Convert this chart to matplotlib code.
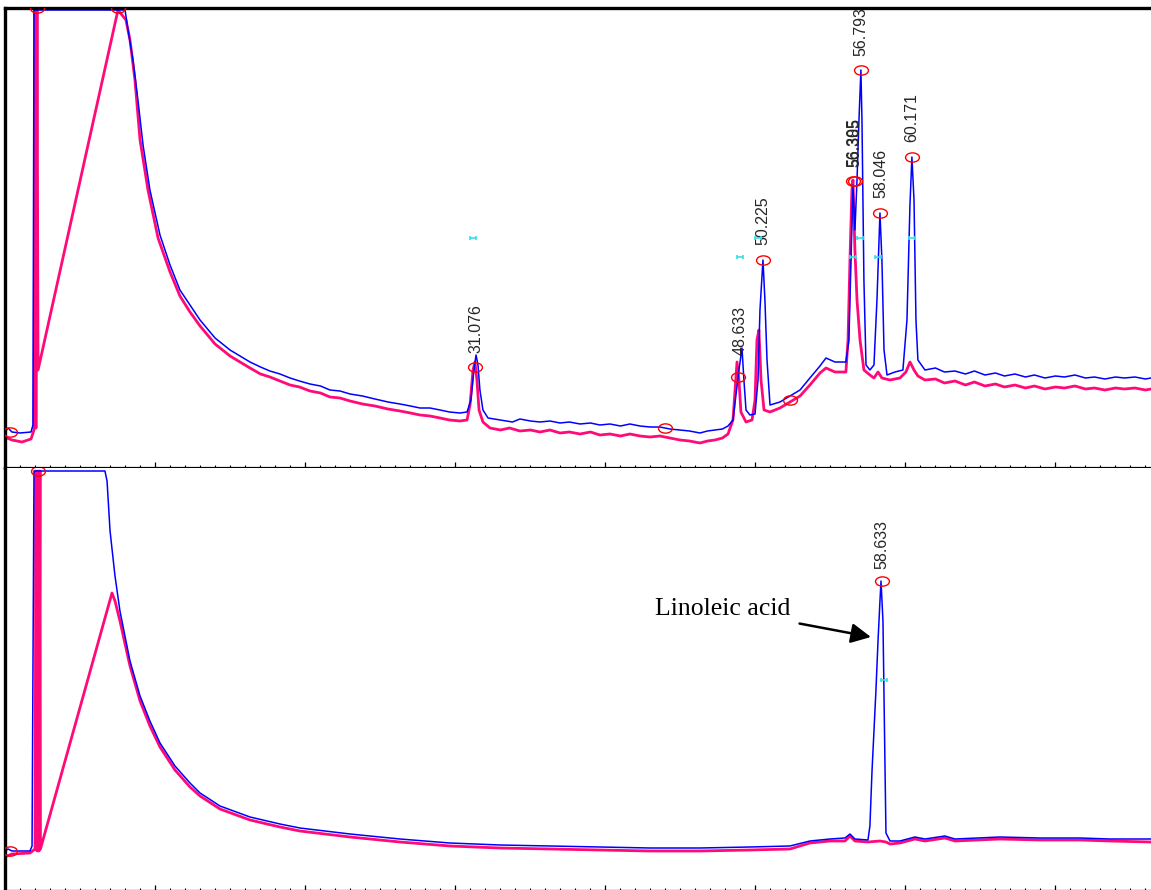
import numpy as np
import matplotlib
matplotlib.use("Agg")
import matplotlib.pyplot as plt
from matplotlib.path import Path
from matplotlib.transforms import Affine2D

blue_top = [(-0.33, 36), (-0.13, 40), (0.13, 36), (0.67, 35), (1.4, 36), (1.53, 43), (1.6, 458),
            (7.67, 458), (7.87, 438), (8.2, 408), (8.53, 368), (8.87, 323), (9.33, 278), (10.0, 233),
            (10.67, 203), (11.33, 178), (12.0, 163), (12.67, 148), (13.67, 130), (14.67, 118),
            (16.0, 106), (16.7, 101), (17.33, 97), (18.0, 94), (18.67, 90), (19.3, 87), (20.0, 84),
            (20.7, 82), (21.33, 78), (22.0, 77), (22.67, 74), (23.5, 72), (24.33, 69), (25.2, 66),
            (26.0, 64), (26.7, 62), (27.33, 60), (28.0, 60), (28.67, 58), (29.3, 56), (30.0, 55),
            (30.47, 56), (30.73, 68), (30.93, 98), (31.07, 113), (31.2, 103), (31.33, 78), (31.53, 58),
            (31.87, 50), (32.67, 48), (33.5, 46), (34.0, 49), (34.7, 47), (35.33, 46), (36.0, 47),
            (36.67, 45), (37.3, 46), (38.0, 44), (38.7, 45), (39.33, 43), (40.0, 44), (40.7, 42),
            (41.33, 44), (42.0, 42), (42.67, 41), (43.33, 41), (44.0, 39), (44.67, 38), (45.3, 37),
            (46.0, 35), (46.5, 37), (47.0, 38), (47.5, 39), (47.87, 42), (48.2, 48), (48.4, 73),
            (48.6, 98), (48.8, 120), (48.93, 88), (49.07, 58), (49.33, 53), (49.67, 54), (49.87, 88),
            (50.0, 158), (50.2, 208), (50.33, 168), (50.47, 108), (50.67, 63), (51.33, 66), (52.0, 72),
            (52.67, 78), (53.33, 90), (54.0, 102), (54.4, 110), (55.0, 106), (55.73, 106), (55.93, 128),
            (56.07, 208), (56.2, 283), (56.33, 238), (56.47, 288), (56.6, 348), (56.73, 398), (56.8, 348),
            (56.93, 188), (57.07, 103), (57.33, 98), (57.6, 103), (57.8, 168), (58.0, 255), (58.13, 208),
            (58.27, 118), (58.47, 93), (59.0, 96), (59.53, 98), (59.8, 148), (60.0, 263), (60.13, 311),
            (60.27, 268), (60.4, 148), (60.53, 108), (61.0, 98), (61.7, 100), (62.3, 96), (63.0, 97),
            (63.7, 94), (64.3, 97), (65.0, 93), (65.7, 95), (66.3, 92), (67.0, 94), (67.7, 91),
            (68.3, 93), (69.0, 90), (69.7, 92), (70.3, 91), (71.0, 93), (71.7, 90), (72.3, 91),
            (73.0, 89), (73.7, 91), (74.3, 90), (75.0, 91), (75.7, 89), (76.07, 90)]

pink_top = [(-0.2, 30), (0.13, 28), (0.8, 26), (1.4, 29), (1.6, 38), (1.67, 458), (1.73, 40),
            (1.8, 458), (1.87, 98),
            (7.2, 458), (7.73, 448), (8.0, 428), (8.33, 388), (8.67, 328), (9.2, 278), (9.87, 230),
            (10.67, 196), (11.33, 172), (12.0, 156), (12.67, 142), (13.67, 124), (14.67, 112),
            (16.0, 100), (16.7, 94), (17.33, 91), (18.0, 87), (18.67, 83), (19.3, 81), (20.0, 77),
            (20.7, 75), (21.33, 71), (22.0, 70), (22.67, 67), (23.5, 64), (24.33, 62), (25.2, 59),
            (26.0, 57), (26.7, 55), (27.33, 53), (28.0, 52), (28.67, 50), (29.3, 48), (30.0, 47),
            (30.47, 48), (30.67, 63), (30.87, 98), (31.0, 106), (31.13, 88), (31.27, 58), (31.53, 46),
            (32.0, 40), (32.7, 38), (33.3, 40), (34.0, 37), (34.7, 38), (35.33, 36), (36.0, 38),
            (36.67, 35), (37.3, 36), (38.0, 34), (38.7, 36), (39.33, 33), (40.0, 34), (40.7, 32),
            (41.33, 34), (42.0, 32), (42.67, 31), (43.33, 32), (44.0, 30), (44.67, 28), (45.3, 27),
            (46.0, 25), (46.5, 27), (47.0, 28), (47.5, 30), (47.87, 34), (48.2, 48), (48.4, 90),
            (48.47, 106), (48.6, 88), (48.73, 56), (49.07, 46), (49.47, 48), (49.67, 68), (49.8, 128),
            (49.93, 138), (50.07, 88), (50.27, 58), (50.67, 56), (51.33, 60), (52.0, 66), (52.67, 72),
            (53.33, 83), (54.0, 95), (54.4, 100), (55.0, 96), (55.73, 96), (55.87, 128), (56.0, 208),
            (56.13, 278), (56.2, 288), (56.33, 218), (56.47, 168), (56.67, 128), (56.93, 98),
            (57.33, 93), (57.6, 90), (57.87, 96), (58.13, 90), (58.67, 88), (59.33, 90), (59.73, 96),
            (60.0, 106), (60.27, 98), (60.53, 92), (61.0, 88), (61.7, 89), (62.3, 85), (63.0, 87),
            (63.7, 83), (64.3, 86), (65.0, 82), (65.7, 84), (66.3, 81), (67.0, 83), (67.7, 80),
            (68.3, 82), (69.0, 79), (69.7, 81), (70.3, 80), (71.0, 82), (71.7, 79), (72.3, 80),
            (73.0, 78), (73.7, 80), (74.3, 79), (75.0, 80), (75.7, 78), (76.07, 79)]

blue_bot = [(-0.33, 40), (-0.13, 42), (0.13, 40), (1.33, 40), (1.47, 45), (1.6, 420), (6.33, 420),
            (6.47, 410), (6.67, 360), (7.0, 315), (7.33, 280), (8.0, 230), (8.67, 195), (9.33, 170),
            (10.0, 148), (11.0, 125), (12.0, 108), (12.67, 98), (14.0, 85), (16.0, 74), (18.0, 67),
            (19.33, 63), (22.67, 57), (26.0, 52), (29.33, 48), (32.67, 46), (36.0, 45), (39.33, 44),
            (42.67, 43), (46.0, 43), (49.33, 44), (52.0, 45), (53.33, 50), (54.67, 52), (55.67, 53),
            (56.0, 57), (56.33, 52), (57.2, 51), (57.33, 65), (57.47, 120), (57.6, 160), (57.73, 200),
            (57.87, 250), (58.0, 290), (58.07, 310), (58.2, 270), (58.33, 130), (58.4, 58), (58.67, 50),
            (59.33, 50), (60.33, 54), (61.0, 52), (62.33, 55), (63.0, 52), (66.0, 54), (68.67, 53),
            (71.33, 53), (73.33, 52), (76.07, 52)]

pink_bot = [(-0.2, 35), (0.13, 37), (1.33, 38), (1.67, 42), (1.73, 420), (1.8, 40), (1.87, 420),
            (1.93, 40), (2.0, 420), (2.03, 42),
            (6.8, 298), (7.0, 290), (7.33, 270), (8.0, 225), (8.67, 190), (9.33, 165), (10.0, 144),
            (11.0, 121), (12.0, 104), (12.67, 95), (14.0, 82), (16.0, 71), (18.0, 64), (19.33, 60),
            (22.67, 54), (26.0, 49), (29.33, 45), (32.67, 43), (36.0, 42), (39.33, 41), (42.67, 40),
            (46.0, 40), (49.33, 41), (52.0, 42), (53.33, 48), (54.67, 50), (55.67, 50), (56.0, 55),
            (56.33, 50), (57.2, 49), (58.0, 50), (58.4, 49), (58.67, 47), (59.33, 48), (60.33, 52),
            (61.0, 50), (62.33, 53), (63.0, 50), (66.0, 52), (68.67, 51), (71.33, 51), (73.33, 50),
            (76.07, 49)]

# marqueurs des pics (cercles rouges) et bornes d'integration (cyan)
peaks_top = [(0.0, 36), (1.8, 460), (7.2, 460), (31.0, 101), (43.67, 40), (48.53, 91), (50.2, 208),
             (52.0, 68), (56.2, 287), (56.33, 287), (56.73, 398), (58.0, 255), (60.13, 311)]
peaks_bot = [(0.0, 40), (1.87, 420), (58.13, 310)]
bounds_top = [(30.87, 230), (48.67, 211), (49.87, 230), (56.2, 211), (56.67, 230), (57.87, 211), (60.13, 230)]
bounds_bot = [(58.27, 211)]

# etiquettes des temps de retention
labels_top = ["31.076", "48.633", "50.225", "56.305", "56.385", "56.793", "58.046", "60.171"]
labels_top_pos = [(31.07, 115), (48.67, 113), (50.2, 223), (56.25, 301), (56.3, 301), (56.73, 412),
                  (58.07, 270), (60.13, 326)]
labels_bot = ["58.633"]
labels_bot_pos = [(58.13, 322)]

BLUE = "#0000ff"
PINK = "#ff0a78"
LABEL_FONT = ["Liberation Sans", "DejaVu Sans"]

ellipse = Path.unit_circle().transformed(Affine2D().scale(1.5, 1.0))
bar_i = Path([(-1, 0), (1, 0), (-1, -0.7), (-1, 0.7), (1, -0.7), (1, 0.7)],
             [Path.MOVETO, Path.LINETO, Path.MOVETO, Path.LINETO, Path.MOVETO, Path.LINETO])

W, H = 1151, 890
fig = plt.figure(figsize=(W / 100, H / 100), dpi=100)
ax1 = fig.add_axes([5 / W, (H - 468) / H, (W - 5) / W, 460 / H])
ax2 = fig.add_axes([5 / W, -1 / H, (W - 5) / W, 423 / H])

xmin, xmax = -1 / 3, 76.07
tick_offset = 0.31


def style_axes(ax, ymax):
    ax.set_xlim(xmin, xmax)
    ax.set_ylim(0, ymax)
    ax.spines["right"].set_visible(False)
    ax.spines["left"].set_linewidth(2.4)
    ax.spines["top"].set_linewidth(2.4)
    ax.spines["bottom"].set_linewidth(1.6)
    ax.set_yticks([])
    ax.set_xticks(np.arange(10, 80, 10) - tick_offset)
    ax.set_xticks(np.arange(1, 77, 1) - tick_offset, minor=True)
    ax.tick_params(axis="x", which="major", direction="in", length=4.5, width=0.9, labelbottom=False)
    ax.tick_params(axis="x", which="minor", direction="in", length=2, width=0.8)


def draw_trace(ax, data, color, lw):
    arr = np.array(data).T
    ax.plot(arr[0], arr[1], color=color, linewidth=lw)


def draw_marks(ax, peaks, bounds):
    p = np.array(peaks).T
    ax.plot(p[0], p[1], linestyle="none", marker=ellipse, markersize=10, markerfacecolor="none",
            markeredgecolor="red", markeredgewidth=1.0, zorder=5)
    b = np.array(bounds).T
    ax.plot(b[0], b[1], linestyle="none", marker=bar_i, markersize=5, markerfacecolor="none",
            markeredgecolor="#33e0e8", markeredgewidth=1.2, zorder=5)


def draw_labels(ax, labels, pos):
    for txt, (x, y) in zip(labels, pos):
        ax.text(x, y, txt, rotation=90, ha="center", va="bottom", fontsize=11.5,
                family=LABEL_FONT, color="#262626")


style_axes(ax1, 460)
draw_trace(ax1, pink_top, PINK, 2.0)
draw_trace(ax1, blue_top, BLUE, 1.1)
draw_marks(ax1, peaks_top, bounds_top)
draw_labels(ax1, labels_top, labels_top_pos)

style_axes(ax2, 423)
ax2.spines["top"].set_visible(False)
draw_trace(ax2, pink_bot, PINK, 2.0)
draw_trace(ax2, blue_bot, BLUE, 1.1)
draw_marks(ax2, peaks_bot, bounds_bot)
draw_labels(ax2, labels_bot, labels_bot_pos)

ax2.annotate("Linoleic acid", xy=(57.4, 254), xytext=(52.0, 282),
             ha="right", va="center", fontsize=18.5, family="Liberation Serif",
             arrowprops=dict(arrowstyle="-|>", color="black", lw=1.8, mutation_scale=30,
                             shrinkA=5, shrinkB=0))

fig.savefig("out.png", dpi=100)
